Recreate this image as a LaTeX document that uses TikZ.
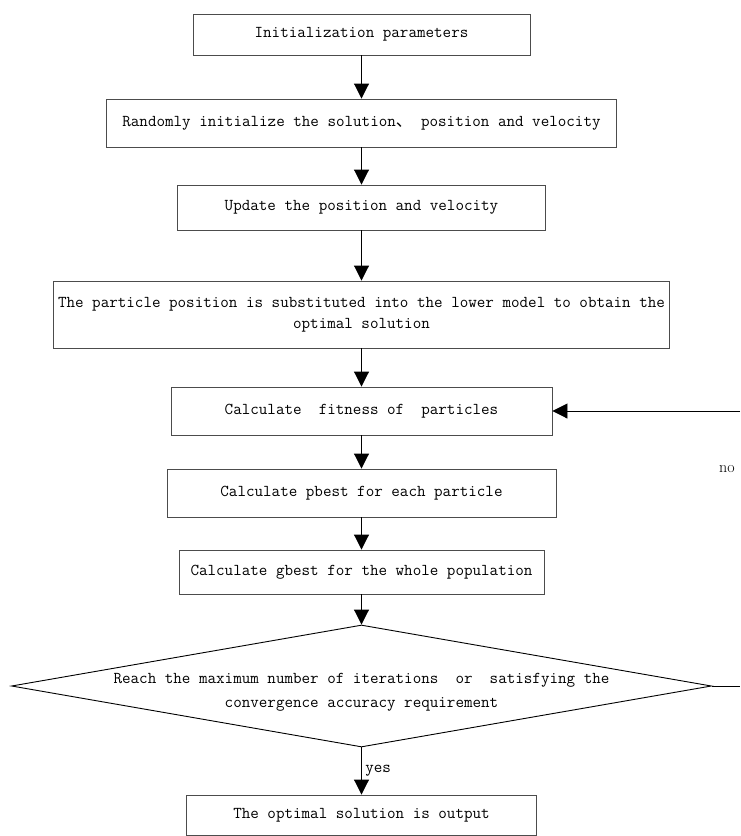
\documentclass[tikz,border=0pt]{standalone}
\usepackage{fontspec}
\newfontfamily\cjk{Noto Sans CJK SC}
\usetikzlibrary{shapes.geometric,arrows.meta}

\begin{document}
\begin{tikzpicture}[x=1pt,y=-1pt,
    txt/.style={font=\ttfamily\fontsize{16.6}{21}\selectfont},
    box/.style={txt,draw=black!70,line width=0.9pt,inner sep=0pt,align=center},
    decision/.style={draw,line width=0.9pt,shape=diamond,inner sep=0pt,aspect=5.74,minimum width=700pt,minimum height=122pt},
    arrow/.style={line width=0.9pt,-{Triangle[width=15pt,length=15pt]}}]
  \useasboundingbox (0,0) rectangle (740,836);
  \node[box,minimum width=337pt,minimum height=41pt] (init) at (361.5,34.5) {Initialization parameters};
  \node[box,minimum width=510pt,minimum height=48pt] (rand) at (361.5,123) {Randomly initialize the solution{\cjk 、} position and velocity};
  \node[box,minimum width=368pt,minimum height=45pt] (upd) at (361.5,207.5) {Update the position and velocity};
  \node[box,minimum width=616pt,minimum height=67pt] (subs) at (361.5,314.5) {The particle position is substituted into the lower model to obtain the\\optimal solution};
  \node[box,minimum width=381pt,minimum height=48pt] (fit) at (361.5,411) {Calculate~ fitness of~ particles};
  \node[box,minimum width=389pt,minimum height=48pt] (pb) at (361.5,493) {Calculate pbest for each particle};
  \node[box,minimum width=365pt,minimum height=44pt] (gb) at (361.5,572) {Calculate gbest for the whole population};
  \node[decision] (dec) at (361.5,686) {};
  \node[txt,align=center] (dectext) at (361.5,692) {Reach the maximum number of iterations~ or~ satisfying the\\[3pt]convergence accuracy requirement};
  \node[box,minimum width=350pt,minimum height=40pt] (out) at (361.5,815) {The optimal solution is output};
  \coordinate (rin) at (740,411);
  \coordinate (rout) at (740,686);
  \node[font=\rmfamily\fontsize{16}{19}\selectfont] (no) at (727,469) {no};

  \path[arrow]
    (init) edge (rand)
    (rand) edge (upd)
    (upd) edge (subs)
    (subs) edge (fit)
    (fit) edge (pb)
    (pb) edge (gb)
    (gb) edge (dec.north)
    (dec.south) edge node[right,txt] {yes} (out);
  \draw[line width=0.9pt] (dec.east) -- (rout);
  \draw[arrow] (rin) -- (fit.east);
\end{tikzpicture}
\end{document}
